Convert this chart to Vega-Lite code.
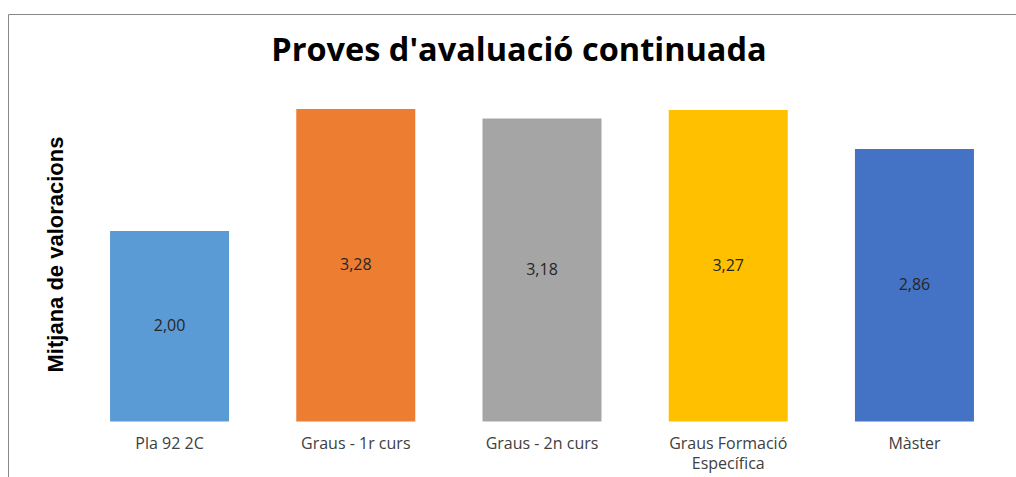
{
  "$schema": "https://vega.github.io/schema/vega-lite/v6.json",
  "width": 1068,
  "height": 466,
  "autosize": "none",
  "padding": {"left": 8, "top": 14, "right": 0, "bottom": 0},
  "background": "white",
  "title": {
    "text": "Proves d'avaluació continuada",
    "font": "Open Sans",
    "fontSize": 32.5,
    "fontWeight": "bold",
    "color": "#000000",
    "anchor": "middle",
    "offset": -53,
    "dx": -23
  },
  "config": {"view": {"stroke": "#898989", "strokeWidth": 1}},
  "data": {
    "values": [
      {"curs": "Pla 92 2C", "mitjana": 2.00, "etiqueta": "2,00"},
      {"curs": "Graus - 1r curs", "mitjana": 3.28, "etiqueta": "3,28"},
      {"curs": "Graus - 2n curs", "mitjana": 3.18, "etiqueta": "3,18"},
      {"curs": "Graus Formació Específica", "mitjana": 3.27, "etiqueta": "3,27"},
      {"curs": "Màster", "mitjana": 2.86, "etiqueta": "2,86"}
    ]
  },
  "encoding": {
    "x": {
      "field": "curs",
      "type": "nominal",
      "sort": null,
      "scale": {"paddingInner": 0.361, "paddingOuter": 0.548},
      "axis": {
        "title": null,
        "orient": "bottom",
        "offset": -58.5,
        "domain": false,
        "ticks": false,
        "labelAngle": 0,
        "labelPadding": 14,
        "labelFont": "Open Sans",
        "labelFontSize": 16,
        "labelColor": "#404040",
        "labelLineHeight": 20,
        "labelExpr": "datum.value == 'Graus Formació Específica' ? ['Graus Formació', 'Específica'] : datum.value"
      }
    }
  },
  "layer": [
    {
      "mark": {"type": "bar"},
      "encoding": {
        "y": {
          "field": "mitjana",
          "type": "quantitative",
          "scale": {"domain": [-0.614, 4.278], "nice": false, "zero": false},
          "axis": {
            "title": "Mitjana de valoracions",
            "titleFont": "Liberation Sans",
            "titleFontSize": 22,
            "titleFontWeight": "bold",
            "titleColor": "#000000",
            "titlePadding": 0,
            "titleY": 240,
            "offset": -59,
            "labels": false,
            "ticks": false,
            "domain": false,
            "grid": false
          }
        },
        "y2": {"datum": 0},
        "color": {
          "field": "curs",
          "type": "nominal",
          "sort": null,
          "scale": {"range": ["#5B9BD5", "#ED7D31", "#A5A5A5", "#FFC000", "#4472C4"]},
          "legend": null
        }
      }
    },
    {
      "mark": {"type": "text", "font": "Open Sans", "fontSize": 16, "color": "#262626", "baseline": "middle", "align": "center"},
      "encoding": {
        "y": {
          "field": "mitjana",
          "type": "quantitative",
          "scale": {"domain": [-1.228, 8.556], "nice": false, "zero": false},
          "axis": null
        },
        "text": {"field": "etiqueta"}
      }
    }
  ],
  "resolve": {"scale": {"y": "independent"}}
}
